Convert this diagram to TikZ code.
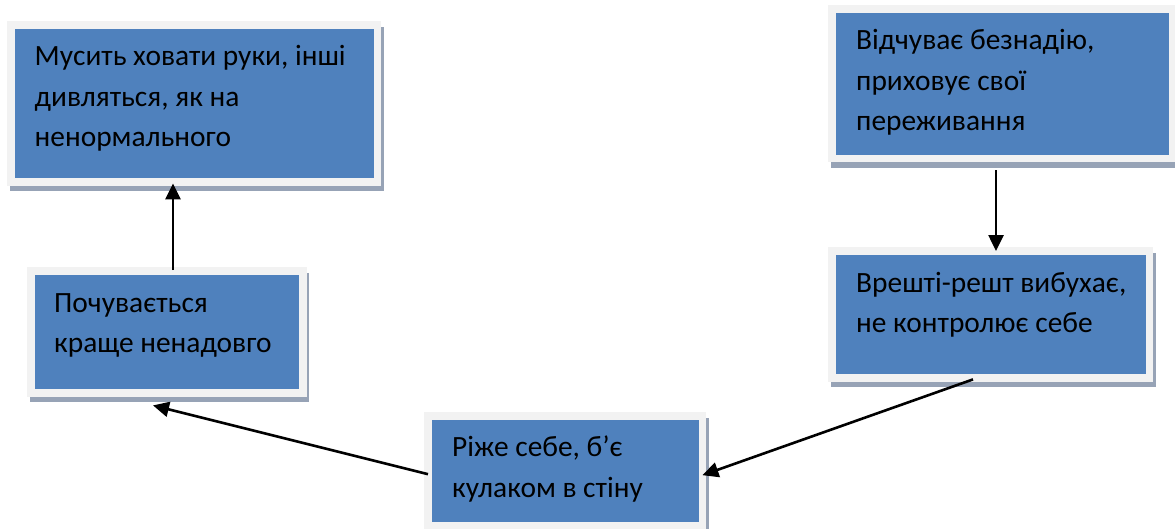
\documentclass[tikz,border=0pt]{standalone}
\usepackage{fontspec}
\setmainfont{Carlito}
\usetikzlibrary{arrows.meta}
\definecolor{boxblue}{HTML}{4F81BD}
\definecolor{framegray}{HTML}{F2F2F2}
\definecolor{shadowcol}{HTML}{97A3B6}
\tikzset{
  box/.style={fill=framegray, inner sep=0pt, anchor=north west,
    preaction={fill=shadowcol, transform canvas={shift={(2.5pt,-5.5pt)}}},
    path picture={\fill[boxblue] ([shift={(7.5pt,-7.5pt)}]path picture bounding box.north west) rectangle ([shift={(-7.5pt,7.5pt)}]path picture bounding box.south east);}},
  txt/.style={anchor=north west, inner sep=0pt, align=left, font=\fontsize{29.4}{40.5}\selectfont, text=black},
  arr/.style={line width=2.6pt, -{Triangle[length=16pt,width=15pt]}}
}
\newcommand{\fl}{\rule{0pt}{30pt}}
\begin{document}
\begin{tikzpicture}[x=1pt,y=-1pt]
\useasboundingbox (0,0) rectangle (1175,528);
% boxes
\node[box, minimum width=374pt, minimum height=164.5pt] (b1) at (7,21) {};
\node[box, minimum width=348pt, minimum height=157pt] (b2) at (828,5) {};
\node[box, minimum width=282pt, minimum height=117pt] (b3) at (424,412) {};
\node[box, minimum width=279.7pt, minimum height=129.7pt] (b4) at (27,267) {};
\node[box, minimum width=325pt, minimum height=134.7pt] (b5) at (828,247) {};
% texts
\node[txt] (t1) at (34.5,35.5) {\fl Мусить ховати руки, інші\\дивляться, як на\\ненормального};
\node[txt] (t2) at (856,19.5) {\fl Відчуває безнадію,\\приховує свої\\переживання};
\node[txt] (t3) at (452,426.5) {\fl Ріже себе, б’є\\кулаком в стіну};
\node[txt] (t4) at (54,282) {\fl Почувається\\краще ненадовго};
\node[txt] (t5) at (856,262) {\fl Врешті-решт вибухає,\\не контролює себе};
% connectors
\draw[arr] ([yshift=-3pt]b4.north -| 173,0) -- ([yshift=2.5pt]b1.south -| 173,0);
\draw[arr] ([yshift=-8pt]b2.south -| 996,0) -- ([yshift=-4pt]b5.north -| 996,0);
\draw[arr] ([yshift=2.7pt]b5.south -| 973,0) -- ([xshift=-4pt,yshift=-4.5pt]b3.east);
\draw[arr] ([xshift=4pt,yshift=-3.5pt]b3.west) -- ([yshift=-8.3pt]b4.south -| 153,0);
\end{tikzpicture}
\end{document}
